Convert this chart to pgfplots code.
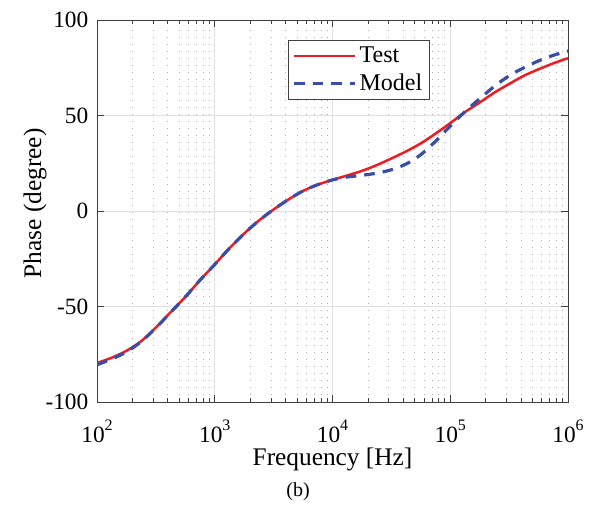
\documentclass[border=0pt]{standalone}
\usepackage{fontspec}
\setmainfont{Liberation Serif}
\usepackage{pgfplots}
\pgfplotsset{compat=1.18}
\definecolor{testred}{RGB}{236,30,36}
\definecolor{modelblue}{RGB}{58,78,165}
\definecolor{axgray}{RGB}{64,64,64}
\newcommand{\tp}[1]{10\raisebox{8.5pt}{\fontsize{12}{12}\selectfont #1}}
\begin{document}
\begin{tikzpicture}
\useasboundingbox (-72.75pt,-76.5pt) rectangle (374.25pt,301.5pt);
\begin{axis}[
  at={(0pt,0pt)}, anchor=south west,
  scale only axis, width=353.25pt, height=286.5pt,
  xmode=log, log basis x=10,
  xmin=1e2, xmax=1e6, ymin=-100, ymax=100,
  xtick={1e2,1e3,1e4,1e5,1e6},
  xticklabels={\tp{2},\tp{3},\tp{4},\tp{5},\tp{6}},
  minor xtick={200,300,400,500,600,700,800,900,
               2000,3000,4000,5000,6000,7000,8000,9000,
               20000,30000,40000,50000,60000,70000,80000,90000,
               200000,300000,400000,500000,600000,700000,800000,900000},
  ytick={-100,-50,0,50,100},
  yticklabels={-100,-50,0,50,100},
  minor y tick num=0,
  grid=both,
  major grid style={black!12, line width=0.5pt},
  minor grid style={black!30, line width=0.6pt, dash pattern=on 0.75pt off 4.5pt},
  tick align=inside, xtick pos=both, ytick pos=both,
  major tick length=5pt, minor tick length=3pt,
  axis line style={axgray, line width=0.7pt},
  every tick/.style={axgray, line width=0.6pt},
  ticklabel style={font=\fontsize{17.5}{17.5}\selectfont},
  xticklabel style={anchor=base, yshift=-30pt, inner sep=0pt},
  yticklabel style={xshift=-3pt},
  xlabel={Frequency [Hz]},
  ylabel={Phase (degree)},
  label style={font=\fontsize{19}{19}\selectfont},
  xlabel style={at={(axis description cs:0.5,-0.166)}, anchor=base},
  ylabel style={at={(axis description cs:-0.1316,0.52)}, anchor=center},
  legend style={at={(axis description cs:0.4055,0.9476)}, anchor=north west,
    draw=axgray, line width=0.6pt, fill=white,
    font=\fontsize{18}{18}\selectfont, row sep=3pt, inner sep=3pt},
  legend cell align=left,
  legend image code/.code={\draw[#1] (0pt,0pt) -- (46pt,0pt);},
]
\addplot[testred, line width=1.9pt, smooth] coordinates {
(100,-79.6) (133.4,-76.8) (177.8,-73.2) (237.1,-68.2) (316.2,-61)
(421.7,-53) (562.3,-45) (749.9,-36.2) (1000,-28) (1333.5,-19.5)
(1778.3,-11.8) (2371.4,-5) (3162.3,0.8) (4217,6) (5623.4,10.5)
(7498.9,13.8) (10000,16.3) (13335,18.6) (17783,21) (23714,24)
(31623,27.5) (42170,31.2) (56234,35.4) (74989,40.5) (100000,46)
(133352,51.8) (177828,56.8) (237137,62) (316228,66.5) (421697,70.8)
(562341,74.2) (749894,77.3) (1000000,80)
};
\addlegendentry{Test}
\addplot[modelblue, line width=2.4pt, dash pattern=on 8pt off 6pt, smooth] coordinates {
(100,-80.5) (133.4,-77.5) (177.8,-73.8) (237.1,-68.4) (316.2,-61.2)
(421.7,-53.1) (562.3,-45) (749.9,-36.2) (1000,-28) (1333.5,-19.5)
(1778.3,-11.8) (2371.4,-5) (3162.3,0.8) (4217,6) (5623.4,10.5)
(7498.9,13.8) (10000,16.3) (13335,17.8) (17783,18.7) (23714,19.8)
(31623,21.6) (42170,24.6) (56234,29.5) (74989,36.5) (100000,44.5)
(133352,52) (177828,58.8) (237137,65.3) (316228,70.8) (421697,75)
(562341,78.6) (749894,81.5) (1000000,83.8)
};
\addlegendentry{Model}
\end{axis}
\node[font=\fontsize{15}{15}\selectfont] at (150.75pt,-67.5pt) {(b)};
\end{tikzpicture}
\end{document}
